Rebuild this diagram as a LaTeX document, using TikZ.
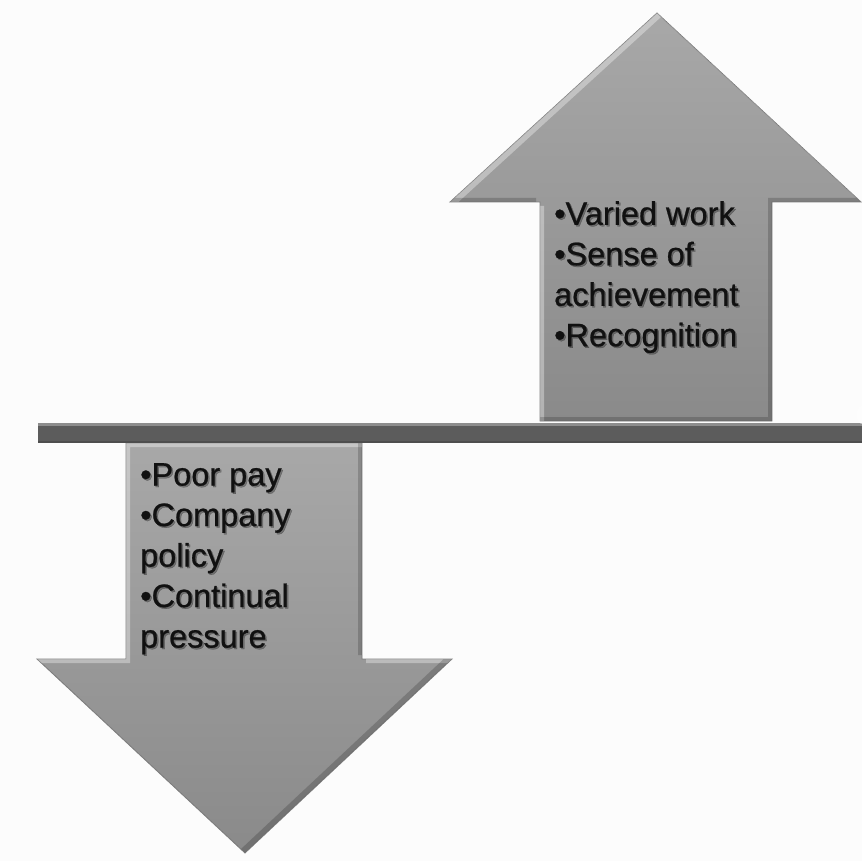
\documentclass[tikz,border=0pt]{standalone}
\usepackage{fontspec}
\setmainfont{Liberation Sans}
\newfontfamily\listfont[FakeBold=0.7]{Liberation Sans}
\definecolor{bg}{HTML}{FCFCFC}
\definecolor{arrtop}{HTML}{A8A8A8}
\definecolor{arrbot}{HTML}{8A8A8A}
\definecolor{arredge}{HTML}{7E7E7E}
\definecolor{barfill}{HTML}{5C5C5C}
\definecolor{txt}{HTML}{111111}
\newcommand\uparr[2]{(657+#1,13+#2) -- (861+#1,202+#2) -- (772+#1,202+#2) -- (772+#1,421+#2) -- (540+#1,421+#2) -- (540+#1,202+#2) -- (450+#1,202+#2) -- cycle}
\newcommand\dnarr[2]{(126+#1,443+#2) -- (362+#1,443+#2) -- (362+#1,659+#2) -- (452+#1,659+#2) -- (245+#1,853+#2) -- (37+#1,659+#2) -- (126+#1,659+#2) -- cycle}
\newcommand\uplist{•Varied work\\•Sense of\\achievement\\•Recognition}
\newcommand\dnlist{•Poor pay\\•Company\\policy\\•Continual\\pressure}
\tikzset{
  arrowbody/.style={top color=arrtop, bottom color=arrbot, draw=arredge, line width=0.8pt, line join=miter},
  hilite/.style={fill=white, fill opacity=0.35, even odd rule},
  shade/.style={fill=black, fill opacity=0.18, even odd rule},
  listtext/.style={anchor=north west, inner sep=0pt, align=left, text=txt,
    font=\listfont\fontsize{32.5}{40.5}\selectfont},
  listshadow/.style={listtext, text=black, text opacity=0.3}
}
\begin{document}
\begin{tikzpicture}[x=1pt,y=-1pt]
\useasboundingbox (0,0) rectangle (862,861);
\fill[bg] (0,0) rectangle (862,861);
% up arrow
\path[arrowbody] \uparr{0}{0};
\begin{scope}
  \clip \uparr{0}{0};
  \fill[hilite] \uparr{0}{0} \uparr{4}{4};
  \fill[shade] \uparr{0}{0} \uparr{-4}{-4};
\end{scope}
% down arrow
\path[arrowbody] \dnarr{0}{0};
\begin{scope}
  \clip \dnarr{0}{0};
  \fill[hilite] \dnarr{0}{0} \dnarr{4}{4};
  \fill[shade] \dnarr{0}{0} \dnarr{-4}{-4};
\end{scope}
% bar
\fill[barfill] (38,423) rectangle (862,443);
\fill[white, opacity=0.3] (38,423) rectangle (862,425.5);
\fill[black, opacity=0.15] (38,440.5) rectangle (862,443);
\fill[white, opacity=0.55] (862,424) arc[start angle=90, end angle=270, x radius=5, y radius=9] -- cycle;
% texts
\node[listshadow] (upshadow) at (555.5,202.5) {\uplist};
\node[listtext] (uptext) at (554,201) {\uplist};
\node[listshadow] (dnshadow) at (141.5,464.5) {\dnlist};
\node[listtext] (dntext) at (140,463) {\dnlist};
\end{tikzpicture}
\end{document}
